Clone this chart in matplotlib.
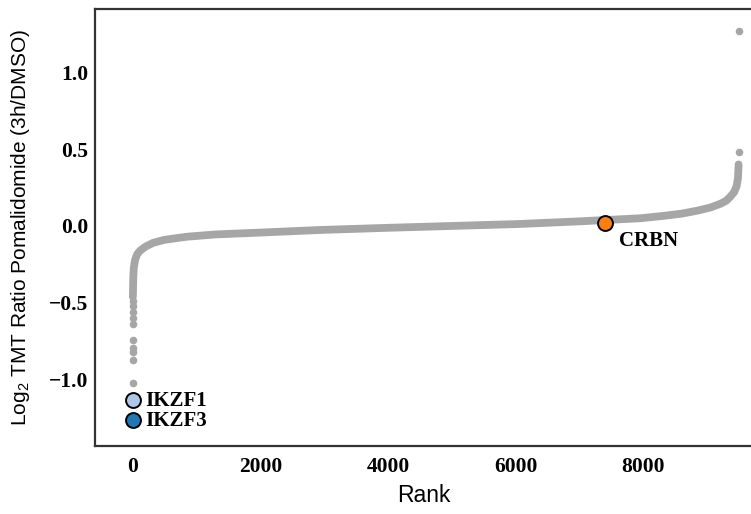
import numpy as np
import matplotlib.pyplot as plt

plt.rcParams['mathtext.fontset'] = 'custom'
plt.rcParams['mathtext.rm'] = 'Liberation Sans'
plt.rcParams['mathtext.it'] = 'Liberation Sans:italic'

# ranked curve of all quantified proteins (rank, log2 ratio)
curve_rank = [5, 8, 12, 20, 40, 70, 120, 200, 320, 500, 850, 1300, 1890,
              2940, 4000, 5000, 6070, 7000, 7950, 8300, 8600, 8850, 9050,
              9210, 9300, 9360, 9420, 9460, 9480, 9490]
curve_val = [-0.46, -0.40, -0.33, -0.27, -0.22, -0.185, -0.16, -0.135,
             -0.11, -0.09, -0.07, -0.055, -0.045, -0.026, -0.012, 0.0,
             0.013, 0.03, 0.05, 0.065, 0.08, 0.10, 0.12, 0.145, 0.165,
             0.19, 0.22, 0.26, 0.31, 0.40]

# isolated points at both ends of the ranking
low_rank = [2, 3, 4, 4, 5, 5, 6, 6, 7, 7]
low_val = [-1.02, -0.87, -0.82, -0.79, -0.74, -0.64, -0.60, -0.56, -0.52, -0.49]
high_rank = [9493, 9492]
high_val = [1.27, 0.48]

# highlighted proteins
hits = ['IKZF1', 'IKZF3', 'CRBN']
hit_rank = [0, 1, 7400]
hit_val = [-1.13, -1.26, 0.02]
hit_col = ['#aec7e8', '#1f77b4', '#ff7f0e']
hit_offset = [(9, -1), (9, -1), (10, -13)]

fig = plt.figure(figsize=(7.51, 5.14), dpi=100)
ax = fig.add_axes([95 / 751, 68 / 514, 657 / 751, 437 / 514])

grey = '#a6a6a6'
ax.plot(curve_rank, curve_val, color=grey, lw=5.6,
        solid_capstyle='round', solid_joinstyle='round', zorder=2)
ax.scatter(low_rank, low_val, s=30, color=grey, lw=0, zorder=2)
ax.scatter(high_rank, high_val, s=30, color=grey, lw=0, zorder=2)

for name, r, v, c, off in zip(hits, hit_rank, hit_val, hit_col, hit_offset):
    ax.scatter([r], [v], s=115, color=c, edgecolor='black', lw=1.4, zorder=3)
    ax.annotate(name, (r, v), xytext=off, textcoords='offset points',
                ha='left', va='center',
                family='Liberation Serif', weight='bold', fontsize=15)

ax.set_xlim(-588, 9700)
ax.set_ylim(-1.43, 1.41)
ax.set_xticks([0, 2000, 4000, 6000, 8000])
ax.set_yticks([-1.0, -0.5, 0.0, 0.5, 1.0])
ax.tick_params(axis='x', length=0, pad=8)
ax.tick_params(axis='y', length=0, pad=5)
for lab in ax.get_xticklabels() + ax.get_yticklabels():
    lab.set_family('Liberation Serif')
    lab.set_weight('bold')
    lab.set_fontsize(15.5)
for sp in ax.spines.values():
    sp.set_color('#333333')
    sp.set_linewidth(1.6)

ax.set_xlabel('Rank', family='Liberation Sans', fontsize=16.5, labelpad=5)
ax.set_ylabel('Log$_2$ TMT Ratio Pomalidomide (3h/DMSO)',
              family='Liberation Sans', fontsize=15, labelpad=12)

fig.savefig('out.png', dpi=100)
